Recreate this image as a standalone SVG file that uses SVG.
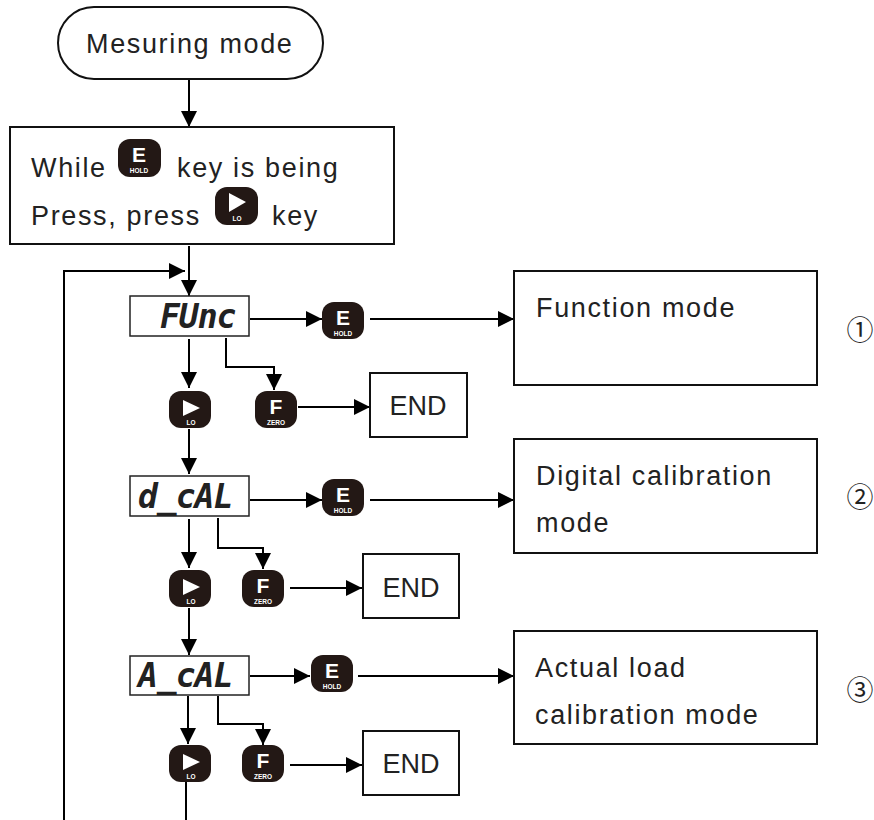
<svg xmlns="http://www.w3.org/2000/svg" width="874" height="820" viewBox="0 0 874 820">
<defs>
<style>
text{font-family:"Liberation Sans","Noto Sans CJK KR",sans-serif;fill:#222}
.t{font-size:27px;letter-spacing:1.65px}
.e{font-size:27px}
.b{fill:#fff;stroke:#111;stroke-width:2}
.d{fill:#fff;stroke:#222;stroke-width:1.5}
.c{fill:none;stroke:#000;stroke-width:2}
.k{fill:#231815}
.kb{font-family:"Liberation Sans",sans-serif;font-weight:bold;font-size:21px;fill:#fff;text-anchor:middle}
.ks{font-family:"Liberation Sans",sans-serif;font-weight:bold;font-size:6.5px;fill:#fff;text-anchor:middle}
.p{fill:#fff}
.s{font-family:"DejaVu Sans Mono",monospace;font-style:italic;font-weight:bold;font-size:33px;fill:#222;letter-spacing:-1px}
.n{font-family:"Noto Sans CJK KR",sans-serif;font-size:27px;text-anchor:middle;fill:#222}
</style>
<marker id="a" markerUnits="userSpaceOnUse" markerWidth="16" markerHeight="16" refX="16" refY="8" orient="auto">
<path d="M0 0L16 8L0 16Z" fill="#000"/>
</marker>
</defs>
<rect width="874" height="820" fill="#fff"/>
<g id="connectors" class="c">
<path class="c" marker-end="url(#a)" d="M189 79V127"/>
<path class="c" marker-end="url(#a)" d="M189 246V296"/>
<path class="c" marker-end="url(#a)" d="M64 820V271H185"/>
<path class="c" marker-end="url(#a)" d="M250 319H322"/>
<path class="c" marker-end="url(#a)" d="M370 319H514"/>
<path class="c" marker-end="url(#a)" d="M189 339V388"/>
<path class="c" marker-end="url(#a)" d="M226 338V367H274V390"/>
<path class="c" marker-end="url(#a)" d="M298 407H370"/>
<path class="c" marker-end="url(#a)" d="M189 429V474"/>
<path class="c" marker-end="url(#a)" d="M250 500H322"/>
<path class="c" marker-end="url(#a)" d="M370 500H514"/>
<path class="c" marker-end="url(#a)" d="M189 519V568"/>
<path class="c" marker-end="url(#a)" d="M218 518V548H263V569"/>
<path class="c" marker-end="url(#a)" d="M290 588H362"/>
<path class="c" marker-end="url(#a)" d="M189 608V655"/>
<path class="c" marker-end="url(#a)" d="M250 676H310"/>
<path class="c" marker-end="url(#a)" d="M358 676H514"/>
<path class="c" marker-end="url(#a)" d="M188 696V744"/>
<path class="c" marker-end="url(#a)" d="M218 696V724H263V745"/>
<path class="c" marker-end="url(#a)" d="M290 765H362"/>
<path class="c" d="M186 782V820"/>
</g>
<g id="start"><rect class="b" x="58" y="7" width="265" height="72" rx="36"/><text class="t" x="86" y="53">Mesuring mode</text></g>
<g id="instruction"><rect class="b" x="10" y="127" width="384" height="117"/>
<text class="t" x="31" y="177">While</text><text class="t" x="177" y="177">key is being</text>
<text class="t" x="31" y="225">Press, press</text><text class="t" x="272" y="225">key</text>
<g transform="translate(118 139)"><rect class="k" width="43" height="38" rx="12"/><text class="kb" x="21" y="23">E</text><text class="ks" x="21" y="34">HOLD</text></g>
<g transform="translate(215 187)"><rect class="k" width="43" height="38" rx="12"/><path class="p" d="M14 6L31 15L14 25Z"/><text class="ks" x="22" y="34">LO</text></g>
</g>
<g id="disp-func"><rect class="d" x="130" y="296" width="119" height="40"/><text class="s" x="160" y="328">FUnc</text></g>
<g id="key-e1" transform="translate(322 302)"><rect class="k" width="42" height="37" rx="12"/><text class="kb" x="21" y="23">E</text><text class="ks" x="21" y="34">HOLD</text></g>
<g id="key-lo1" transform="translate(169 391)"><rect class="k" width="42" height="37" rx="12"/><path class="p" d="M14 9L31 17L14 25Z"/><text class="ks" x="22" y="34">LO</text></g>
<g id="key-f1" transform="translate(255 391)"><rect class="k" width="42" height="37" rx="12"/><text class="kb" x="21" y="23">F</text><text class="ks" x="21" y="34">ZERO</text></g>
<g id="end1"><rect class="b" x="370" y="373" width="97" height="64"/><text class="e" x="418" y="415" text-anchor="middle">END</text></g>
<g id="function-mode"><rect class="b" x="514" y="271" width="303" height="114"/><text class="t" x="536" y="317">Function mode</text></g>
<g id="mark1"><text class="n" x="860" y="340">①</text></g>
<g id="disp-dcal"><rect class="d" x="130" y="476" width="119" height="40"/><text class="s" x="138" y="508">d_cAL</text></g>
<g id="key-e2" transform="translate(322 479)"><rect class="k" width="42" height="37" rx="12"/><text class="kb" x="21" y="23">E</text><text class="ks" x="21" y="34">HOLD</text></g>
<g id="key-lo2" transform="translate(169 570)"><rect class="k" width="42" height="37" rx="12"/><path class="p" d="M14 9L31 17L14 25Z"/><text class="ks" x="22" y="34">LO</text></g>
<g id="key-f2" transform="translate(242 570)"><rect class="k" width="42" height="37" rx="12"/><text class="kb" x="21" y="23">F</text><text class="ks" x="21" y="34">ZERO</text></g>
<g id="end2"><rect class="b" x="363" y="554" width="96" height="64"/><text class="e" x="411" y="597" text-anchor="middle">END</text></g>
<g id="digital-mode"><rect class="b" x="514" y="439" width="303" height="114"/><text class="t" x="536" y="485">Digital calibration</text><text class="t" x="536" y="532">mode</text></g>
<g id="mark2"><text class="n" x="860" y="507">②</text></g>
<g id="disp-acal"><rect class="d" x="130" y="656" width="119" height="39"/><text class="s" x="138" y="687">A_cAL</text></g>
<g id="key-e3" transform="translate(311 655)"><rect class="k" width="42" height="37" rx="12"/><text class="kb" x="21" y="23">E</text><text class="ks" x="21" y="34">HOLD</text></g>
<g id="key-lo3" transform="translate(169 745)"><rect class="k" width="42" height="37" rx="12"/><path class="p" d="M14 9L31 17L14 25Z"/><text class="ks" x="22" y="34">LO</text></g>
<g id="key-f3" transform="translate(242 745)"><rect class="k" width="42" height="37" rx="12"/><text class="kb" x="21" y="23">F</text><text class="ks" x="21" y="34">ZERO</text></g>
<g id="end3"><rect class="b" x="363" y="731" width="96" height="64"/><text class="e" x="411" y="773" text-anchor="middle">END</text></g>
<g id="actual-mode"><rect class="b" x="514" y="631" width="303" height="113"/><text class="t" x="535" y="677">Actual load</text><text class="t" x="535" y="724">calibration mode</text></g>
<g id="mark3"><text class="n" x="860" y="700">③</text></g>
</svg>
